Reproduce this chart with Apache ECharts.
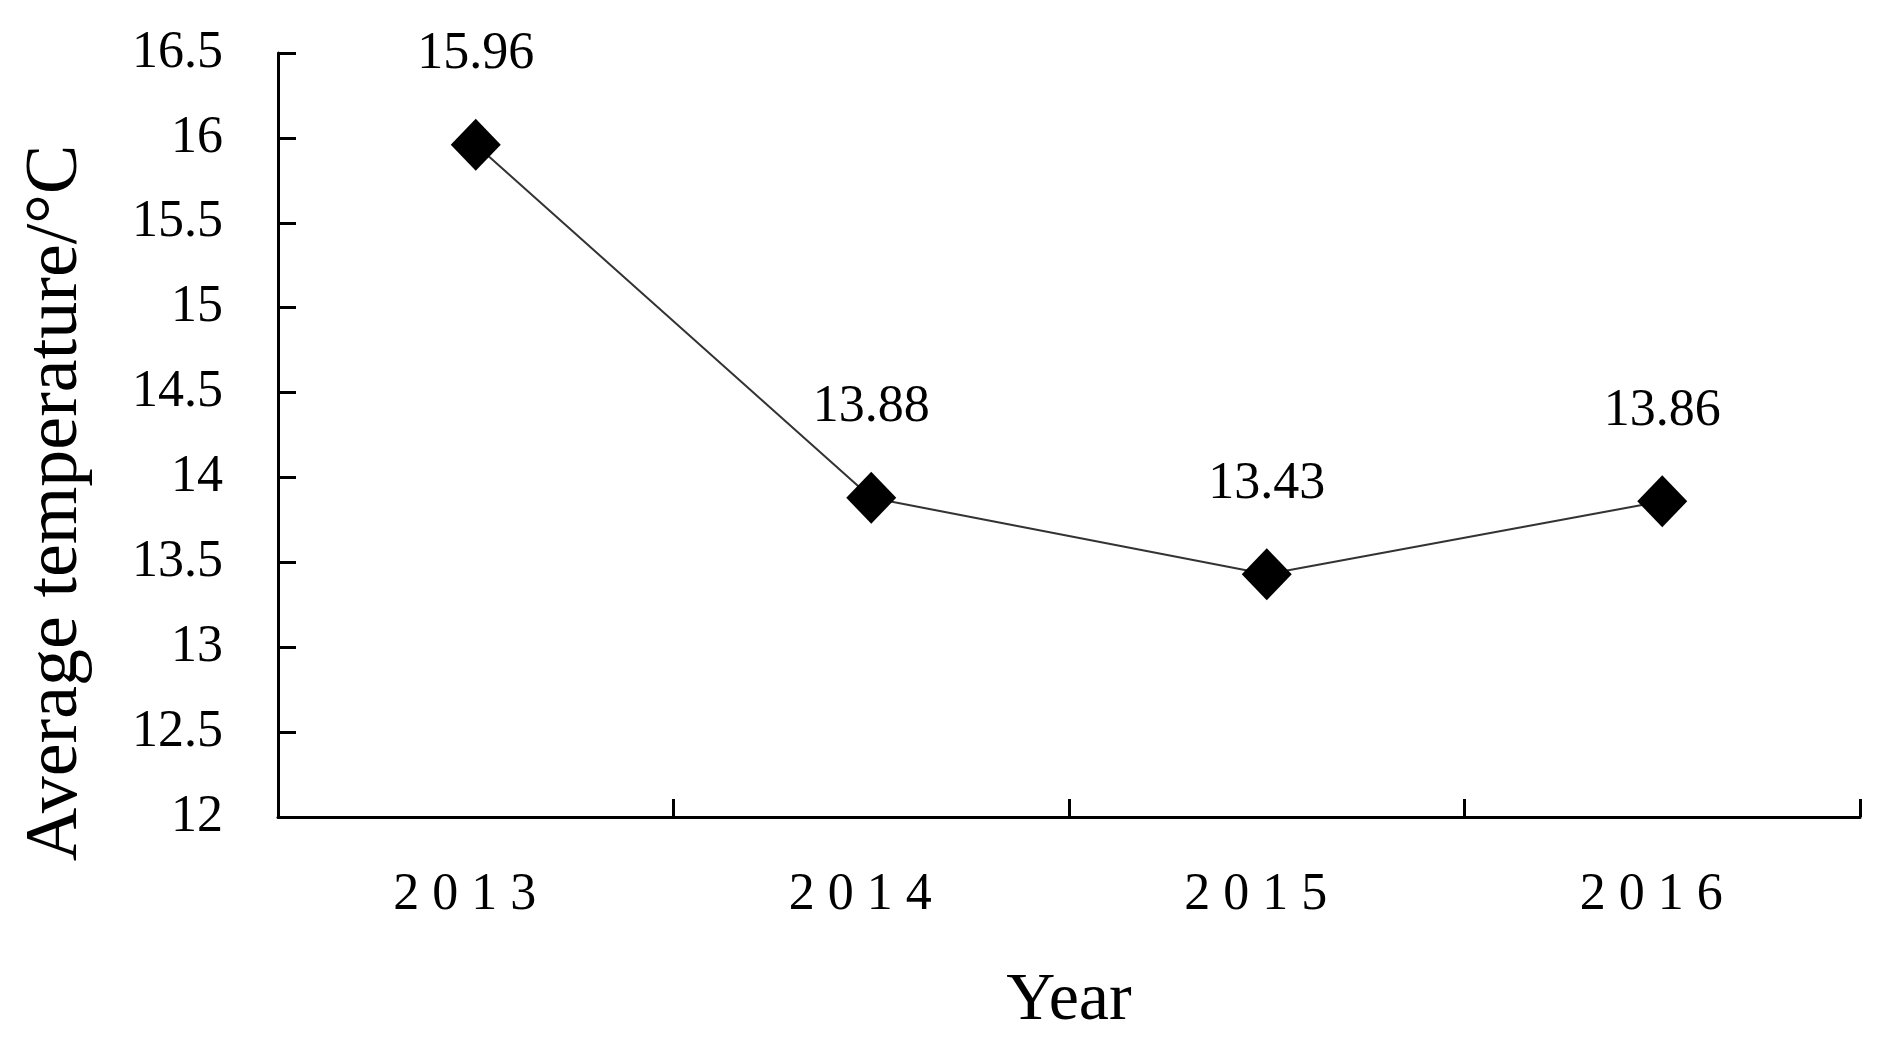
<!DOCTYPE html>
<html>
<head>
<meta charset="utf-8">
<title>Average temperature</title>
<script src="https://cdn.jsdelivr.net/npm/echarts@6/dist/echarts.min.js"></script>
<style>
    html, body { margin: 0; padding: 0; background: #fff; }
    #chart { width: 1885px; height: 1045px; }
</style>
</head>
<body>
<div id="chart"></div>
<script>
// 数据
var years = ['2013', '2014', '2015', '2016'];
var avgTemp = [15.96, 13.88, 13.43, 13.86];
var yMin = 12, yMax = 16.5, yStep = 0.5;

var font = '"Liberation Serif", "Times New Roman", serif';

var myChart = echarts.init(document.getElementById('chart'));

var option = {
    backgroundColor: '#fff',
    animation: false,
    grid: { left: 278, right: 25, top: 53, bottom: 228, outerBoundsMode: 'none' },
    xAxis: {
        type: 'category',
        data: years,
        boundaryGap: true,
        name: 'Year',
        nameLocation: 'middle',
        nameGap: 150,
        nameTextStyle: { fontFamily: font, fontSize: 68, color: '#000' },
        axisLine: { lineStyle: { color: '#000', width: 3 } },
        axisTick: { show: true, inside: true, length: 18, lineStyle: { color: '#000', width: 3 } },
        axisLabel: {
            margin: 52,
            fontFamily: font, fontSize: 52, color: '#000',
            padding: [0, 22, 0, 0],
            formatter: function (v) { return v.split('').join(' '); }   // 年份字母间隔
        },
        splitLine: { show: false }
    },
    yAxis: {
        type: 'value',
        min: yMin, max: yMax, interval: yStep,
        name: 'Average temperature/\u00B0C',
        nameLocation: 'middle',
        nameGap: 184,
        nameRotate: 90,
        nameTextStyle: {
            fontFamily: font, fontSize: 74, color: '#000',
            padding: [0, 136, 0, 0]
        },
        axisLine: { show: true, lineStyle: { color: '#000', width: 3 } },
        axisTick: { show: true, inside: true, length: 18, lineStyle: { color: '#000', width: 3 } },
        axisLabel: { margin: 55, fontFamily: font, fontSize: 52, color: '#000' },
        splitLine: { show: false }
    },
    series: [{
        type: 'line',
        data: avgTemp,
        symbol: 'diamond',
        symbolSize: [50, 52],
        itemStyle: { color: '#000' },
        lineStyle: { color: '#333', width: 2 },
        label: {
            show: true,
            position: 'top',
            distance: 38,
            fontFamily: font, fontSize: 52, color: '#000',
            formatter: function (p) { return p.value.toFixed(2); }
        }
    }]
};

myChart.setOption(option);
</script>
</body>
</html>
